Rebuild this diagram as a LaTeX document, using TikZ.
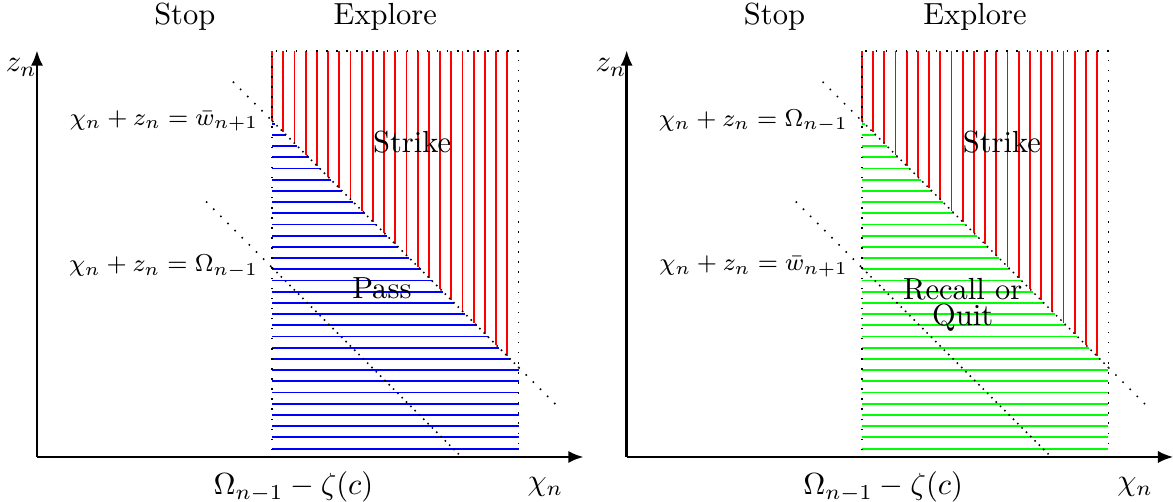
\documentclass[tikz,border=0pt]{standalone}
\usetikzlibrary{arrows.meta}
\begin{document}
\begin{tikzpicture}[x=3.67pt,y=3.67pt,
  axis/.style={thick,-{Latex[length=5pt,width=4pt]}},
  dotline/.style={line width=0.5pt,dash pattern=on 0.5pt off 2.8pt},
  densedot/.style={line width=0.5pt,dash pattern=on 0.5pt off 1.5pt},
  pass/.style={draw=blue,line width=0.6pt},
  strike/.style={draw=red,line width=0.6pt},
  quit/.style={draw=green,line width=0.6pt},
  eqlabel/.style={anchor=east,font=\fontsize{8.5}{10}\selectfont}]
\useasboundingbox (-3.3,-3.93) rectangle (101.43,40.8);
% left panel
\begin{scope}
\draw[pass] \foreach \y in {0.75,1.75,...,29.75} {(21,\y) -- ({min(43,51-\y)},\y)};
\draw[strike] \foreach \x in {21,...,42} {(\x,36.25) -- (\x,51-\x)};
\coordinate (bL) at (21,0.6);
\coordinate (tlL) at (21,36.25);
\coordinate (trL) at (43,36.25);
\coordinate (brL) at (43,0.6);
\draw[dotline] (bL) -- (tlL) -- (trL) -- (brL);
\coordinate (u1L) at (17.5,33.5);
\coordinate (umL) at (21,30);
\coordinate (unL) at (43,8);
\coordinate (u2L) at (46.3,4.7);
\coordinate (l1L) at (15.1,22.8);
\coordinate (lmL) at (21,16.9);
\coordinate (l2L) at (37.9,0);
\draw[dotline] (u1L) -- (umL);
\draw[densedot] (umL) -- (unL);
\draw[dotline] (unL) -- (u2L);
\draw[dotline] (l1L) -- (lmL);
\draw[densedot] (lmL) -- (l2L);
\coordinate (oL) at (0,0);
\coordinate (xL) at (48.8,0);
\coordinate (yL) at (0,36.3);
\draw[axis] (oL) -- (xL);
\draw[axis] (oL) -- (yL);
\node (zL) at (-1.4,34.8) {$z_n$};
\node (chiL) at (45.4,-2.7) {$\chi_n$};
\node (cutL) at (22.9,-2.7) {$\Omega_{n-1}-\zeta(c)$};
\node (stopL) at (13.2,39.3) {Stop};
\node (exploreL) at (31.1,39.3) {Explore};
\node[eqlabel] (wL) at (20.7,30) {$\chi_n+z_n=\bar{w}_{n+1}$};
\node[eqlabel] (omL) at (20.7,17) {$\chi_n+z_n=\Omega_{n-1}$};
\node (strikeL) at (33.5,28.1) {Strike};
\node (passL) at (30.8,15.1) {Pass};
\end{scope}
% right panel
\begin{scope}[xshift=52.65*3.67pt]
\draw[quit] \foreach \y in {0.75,1.75,...,29.75} {(21,\y) -- ({min(43,51-\y)},\y)};
\draw[strike] \foreach \x in {21,...,42} {(\x,36.25) -- (\x,51-\x)};
\coordinate (bR) at (21,0.6);
\coordinate (tlR) at (21,36.25);
\coordinate (trR) at (43,36.25);
\coordinate (brR) at (43,0.6);
\draw[dotline] (bR) -- (tlR) -- (trR) -- (brR);
\coordinate (u1R) at (17.5,33.5);
\coordinate (umR) at (21,30);
\coordinate (unR) at (43,8);
\coordinate (u2R) at (46.3,4.7);
\coordinate (l1R) at (15.1,22.8);
\coordinate (lmR) at (21,16.9);
\coordinate (l2R) at (37.9,0);
\draw[dotline] (u1R) -- (umR);
\draw[densedot] (umR) -- (unR);
\draw[dotline] (unR) -- (u2R);
\draw[dotline] (l1R) -- (lmR);
\draw[densedot] (lmR) -- (l2R);
\coordinate (oR) at (0,0);
\coordinate (xR) at (48.8,0);
\coordinate (yR) at (0,36.3);
\draw[axis] (oR) -- (xR);
\draw[axis] (oR) -- (yR);
\node (zR) at (-1.4,34.8) {$z_n$};
\node (chiR) at (45.4,-2.7) {$\chi_n$};
\node (cutR) at (22.9,-2.7) {$\Omega_{n-1}-\zeta(c)$};
\node (stopR) at (13.2,39.3) {Stop};
\node (exploreR) at (31.1,39.3) {Explore};
\node[eqlabel] (omR) at (20.7,30) {$\chi_n+z_n=\Omega_{n-1}$};
\node[eqlabel] (wR) at (20.7,17) {$\chi_n+z_n=\bar{w}_{n+1}$};
\node (strikeR) at (33.5,28.1) {Strike};
\node[align=center] (quitR) at (30,13.6) {Recall or\\[-3.5pt]Quit};
\end{scope}
\end{tikzpicture}
\end{document}
